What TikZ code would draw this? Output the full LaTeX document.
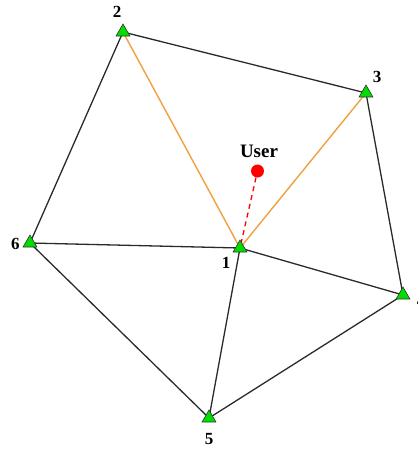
\documentclass[tikz,border=0pt]{standalone}
\usepackage{fontspec}
\setmainfont{Liberation Serif}
\usetikzlibrary{shapes.geometric,backgrounds}
\definecolor{edgegray}{HTML}{2A2A2A}
\definecolor{edgeorange}{HTML}{F0A040}
\definecolor{bsgreen}{HTML}{00DD00}
\tikzset{
  bs/.style={regular polygon, regular polygon sides=3, inner sep=0pt, minimum size=16pt, fill=bsgreen, draw=black!80, line width=0.6pt},
  lbl/.style={font=\bfseries\fontsize{17}{17}\selectfont, inner sep=0pt},
  link/.style={draw=edgegray, line width=1.3pt},
  sel/.style={draw=edgeorange, line width=1.4pt},
}
\begin{document}
\begin{tikzpicture}[x=1pt,y=-1pt]
\useasboundingbox (0,0) rectangle (418,451);
\node[bs] (n1) at (240,248) {};
\node[bs] (n2) at (123,32) {};
\node[bs] (n3) at (366,93) {};
\node[bs] (n4) at (403,295) {};
\node[bs] (n5) at (209,418) {};
\node[bs] (n6) at (30,243) {};
\node[circle, fill=red, inner sep=0pt, minimum size=13pt] (user) at (257.5,171) {};
\begin{pgfonlayer}{background}
\draw[link] (n2.center) -- (n3.center) -- (n4.center) -- (n5.center) -- (n6.center) -- (n2.center);
\draw[link] (n6.center) -- (n1.center) -- (n4.center);
\draw[link] (n1.center) -- (n5.center);
\draw[sel] (n2.center) -- (n1.center) -- (n3.center);
\draw[red, line width=1.3pt, dash pattern=on 5pt off 4pt] (user) -- (n1.center);
\end{pgfonlayer}
\node[lbl] (l1) at (226,263) {1};
\node[lbl] (l2) at (117,12) {2};
\node[lbl] (l3) at (377,77) {3};
\node[lbl] (l4) at (421,301) {4};
\node[lbl] (l5) at (209,439) {5};
\node[lbl] (l6) at (15.5,244) {6};
\node[lbl, font=\bfseries\fontsize{19}{19}\selectfont] (ul) at (259,151) {User};
\end{tikzpicture}
\end{document}
